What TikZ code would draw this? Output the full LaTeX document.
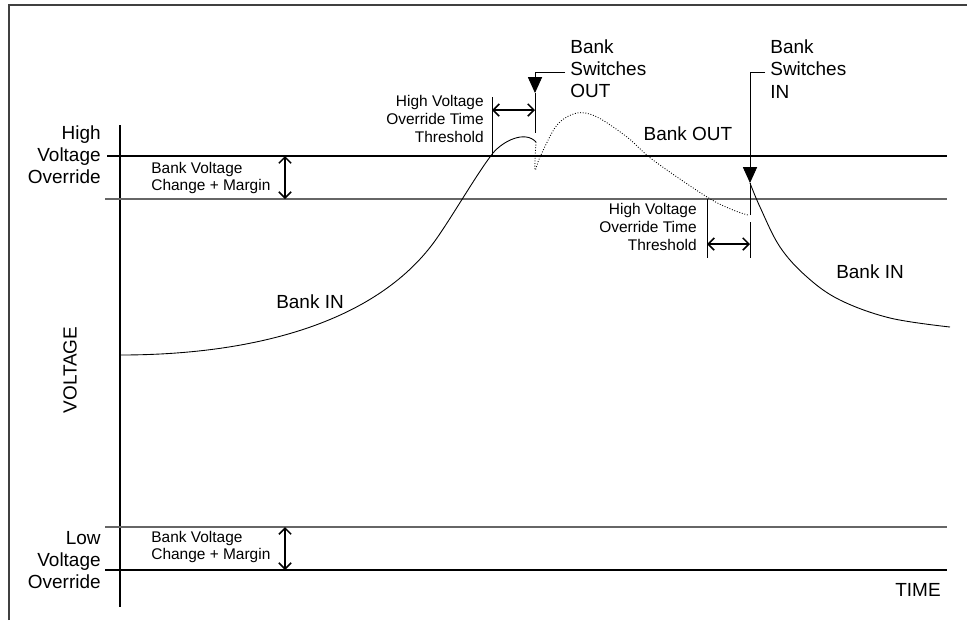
\documentclass[tikz,border=0pt]{standalone}
\usepackage{fontspec}
\setmainfont{Liberation Sans}
\usetikzlibrary{arrows.meta,positioning}
\tikzstyle{big} = [font=\fontsize{10.8}{12.6}\selectfont, inner sep=0pt]
\tikzstyle{small} = [font=\fontsize{8.8}{10.2}\selectfont, inner sep=0pt]
\tikzstyle{heavy} = [line width=1.1pt]
\tikzstyle{light} = [line width=0.6pt, black!60]
\tikzstyle{curve} = [line width=0.5pt]
\tikzstyle{dim} = [line width=0.6pt, {Straight Barb[length=3.5pt,width=7pt,line width=0.9pt]}-{Straight Barb[length=3.5pt,width=7pt,line width=0.9pt]}]
\tikzstyle{lead} = [line width=0.5pt, -{Triangle[width=8pt,length=9pt]}]

\begin{document}
\begin{tikzpicture}[x=0.02cm,y=-0.02cm]
      \useasboundingbox (0,0) rectangle (967,620);
      % frame
      \draw[line width=1.1pt, black!75] (9,620) -- (9,5) -- (967,5);
      % voltage axis
      \coordinate (ytop) at (120,125);
      \coordinate (ybot) at (120,607);
      \draw[heavy] (ytop) -- (ybot);
      % levels
      \coordinate (hv1) at (107,156);
      \coordinate (hv2) at (947,156);
      \coordinate (hm1) at (105,199);
      \coordinate (hm2) at (947,199);
      \coordinate (lm1) at (105,527);
      \coordinate (lm2) at (947,527);
      \coordinate (lv1) at (105,570);
      \coordinate (lv2) at (947,570);
      \draw[heavy] (hv1) -- (hv2);
      \draw[light] (hm1) -- (hm2);
      \draw[light] (lm1) -- (lm2);
      \draw[heavy] (lv1) -- (lv2);
      % level labels
      \node[big, align=right, anchor=east] (hvo) at (101,155) {High\\Voltage\\Override};
      \node[big, align=right, anchor=east] (lvo) at (101,560) {Low\\Voltage\\Override};
      \node[big, rotate=90] (volt) at (70,370) {VOLTAGE};
      \node[big] (time) at (918,590) {TIME};
      % bank voltage change + margin
      \node[small, align=left, anchor=west] (hbv) at (151,178) {Bank Voltage\\Change + Margin};
      \node[small, align=left, anchor=west] (lbv) at (151,547) {Bank Voltage\\Change + Margin};
      \coordinate (hbva) at (285,156);
      \coordinate (hbvb) at (285,199);
      \coordinate (lbva) at (285,527);
      \coordinate (lbvb) at (285,570);
      \draw[dim] (hbva) -- (hbvb);
      \draw[dim] (lbva) -- (lbvb);
      % voltage curve
      \coordinate (c0) at (120,355);
      \coordinate (c1) at (437,238);
      \coordinate (c2) at (493,153);
      \coordinate (c3) at (536,142);
      \draw[curve] (c0) .. controls (260,355) and (380,320) .. (c1)
                        .. controls (455,212) and (478,172) .. (c2)
                        .. controls (503,141) and (525,130) .. (c3);
      \draw[curve, densely dotted] plot[smooth, tension=0.55] coordinates {(536,142) (535,170) (540,157) (557,125) (577,113) (597,117) (627,137) (653,160) (707,197) (733,210) (748,215)};
      \coordinate (jlow) at (750,215);
      \coordinate (jtop) at (750,183);
      \draw[curve] (jlow) -- (jtop);
      \draw[curve] plot[smooth, tension=0.6] coordinates {(750,183) (760,207) (780,247) (807,277) (840,300) (890,318) (950,327)};
      \node[big] (bin1) at (310,302) {Bank IN};
      \node[big] (bout) at (688,134) {Bank OUT};
      \node[big] (bin2) at (870,272) {Bank IN};
      % switching points
      \node[big, align=left, anchor=west] (swout) at (570,69) {Bank\\Switches\\OUT};
      \node[big, align=left, anchor=west] (swin) at (770,69) {Bank\\Switches\\IN};
      \coordinate (outend) at (565,72);
      \coordinate (outknee) at (535,72);
      \coordinate (outtip) at (535,93);
      \coordinate (inend) at (765,72);
      \coordinate (inknee) at (750,72);
      \draw[lead] (outend) -- (outknee) -- (outtip);
      \draw[lead] (inend) -- (inknee) -- (jtop);
      % override time thresholds
      \node[small, align=right, anchor=east] (thr1) at (484,119) {High Voltage\\Override Time\\Threshold};
      \node[small, align=right, anchor=east] (thr2) at (697,227) {High Voltage\\Override Time\\Threshold};
      \coordinate (t1a) at (492,97);
      \coordinate (t1b) at (492,156);
      \coordinate (t1c) at (535,133);
      \draw[curve] (t1a) -- (t1b);
      \draw[curve] (outtip) -- (t1c);
      \coordinate (t1l) at (492,110);
      \coordinate (t1r) at (535,110);
      \draw[dim] (t1l) -- (t1r);
      \coordinate (t2a) at (707,199);
      \coordinate (t2b) at (707,258);
      \coordinate (t2c) at (750,222);
      \coordinate (t2d) at (750,258);
      \draw[curve] (t2a) -- (t2b);
      \draw[curve] (t2c) -- (t2d);
      \coordinate (t2l) at (707,244);
      \coordinate (t2r) at (750,244);
      \draw[dim] (t2l) -- (t2r);
\end{tikzpicture}
\end{document}
